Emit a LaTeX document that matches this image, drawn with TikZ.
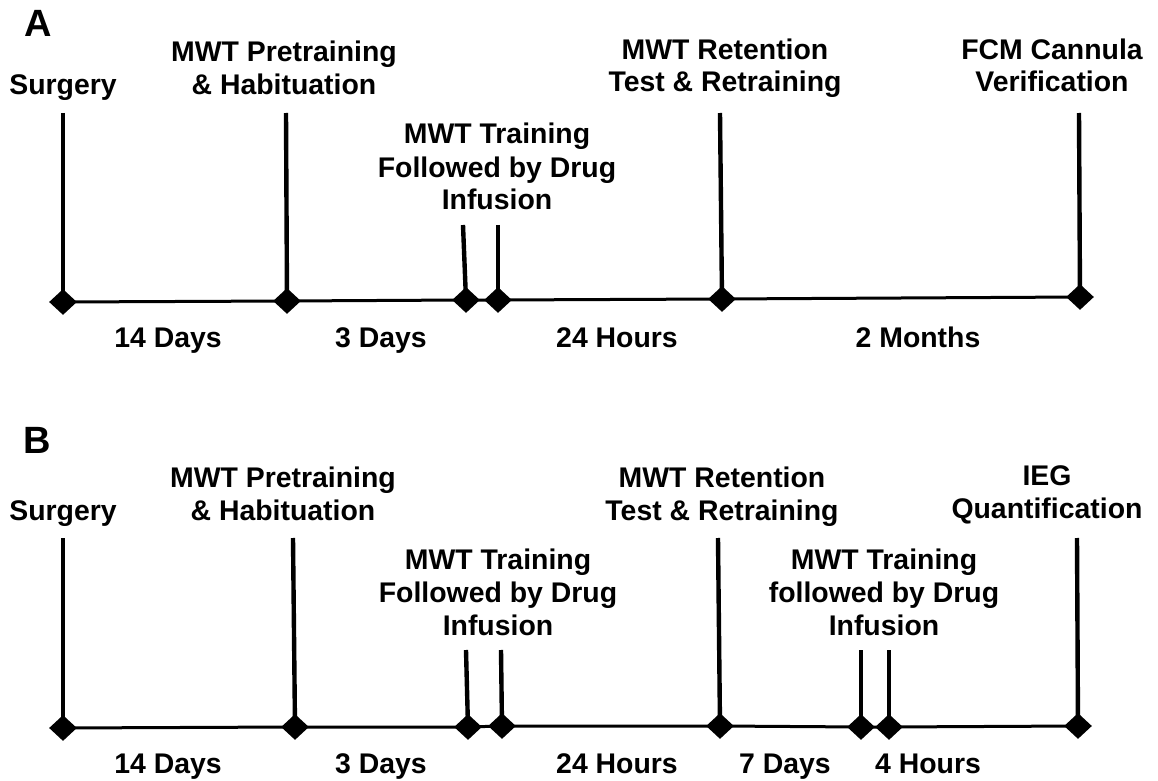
\documentclass[tikz,border=0pt]{standalone}
\usepackage{fontspec}
\setmainfont{Liberation Sans}
\usetikzlibrary{shapes.geometric}
\begin{document}
\begin{tikzpicture}[x=0.5pt,y=-0.5pt,
  lbl/.style={font=\bfseries\fontsize{14.2}{16.5}\selectfont, align=center, anchor=base, inner sep=0pt},
  dur/.style={font=\bfseries\fontsize{14.2}{16.5}\selectfont, anchor=base, inner sep=0pt},
  panel/.style={font=\bfseries\fontsize{19}{21}\selectfont, anchor=base, inner sep=0pt},
  evt/.style={diamond, fill=black, inner sep=0pt, minimum width=14pt, minimum height=13pt},
  axisline/.style={line width=1.5pt},
  tickline/.style={line width=2.2pt}]
\fill[white] (0,0) rectangle (1158,781);
\useasboundingbox (0,0) rectangle (1158,781);

% ---------------- Panel A ----------------
\node[panel] (pA) at (38,37) {A};
\node[evt] (a1) at (63,302) {};
\node[evt] (a2) at (287,301) {};
\node[evt] (a3) at (466,300) {};
\node[evt] (a4) at (498,300) {};
\node[evt] (a5) at (722,299) {};
\node[evt] (a6) at (1080,297) {};
\coordinate (ta1) at (63,113);
\coordinate (ta2) at (286,113);
\coordinate (ta3) at (463,225);
\coordinate (ta4) at (498,225);
\coordinate (ta5) at (720,113);
\coordinate (ta6) at (1079,113);
\draw[axisline] (a1.center) -- (a2.center) -- (a3.center) -- (a4.center) -- (a5.center) -- (a6.center);
\foreach \i in {1,...,6} \draw[tickline] (ta\i) -- (a\i.center);

\node[lbl] (la1) at (63,95) {Surgery};
\node[lbl] (la2) at (284,95) {MWT Pretraining\\\& Habituation};
\node[lbl] (la3) at (497,210) {MWT Training\\Followed by Drug\\Infusion};
\node[lbl] (la5) at (725,92) {MWT Retention\\Test \& Retraining};
\node[lbl] (la6) at (1052,92) {FCM Cannula\\Verification};

\node[dur] (da1) at (168,347) {14 Days};
\node[dur] (da2) at (381,347) {3 Days};
\node[dur] (da3) at (617,347) {24 Hours};
\node[dur] (da4) at (918,347) {2 Months};

% ---------------- Panel B ----------------
\node[panel] (pB) at (37,453) {B};
\node[evt] (b1) at (63,728) {};
\node[evt] (b2) at (295,727) {};
\node[evt] (b3) at (468,727) {};
\node[evt] (b4) at (502,726) {};
\node[evt] (b5) at (720,726) {};
\node[evt] (b6) at (861,727) {};
\node[evt] (b7) at (889,727) {};
\node[evt] (b8) at (1078,726) {};
\coordinate (tb1) at (63,538);
\coordinate (tb2) at (293,538);
\coordinate (tb3) at (466,650);
\coordinate (tb4) at (501,650);
\coordinate (tb5) at (718,538);
\coordinate (tb6) at (861,650);
\coordinate (tb7) at (889,650);
\coordinate (tb8) at (1077,538);
\draw[axisline] (b1.center) -- (b2.center) -- (b3.center) -- (b4.center) -- (b5.center) -- (b6.center) -- (b7.center) -- (b8.center);
\foreach \i in {1,...,8} \draw[tickline] (tb\i) -- (b\i.center);

\node[lbl] (lb1) at (63,520) {Surgery};
\node[lbl] (lb2) at (283,520) {MWT Pretraining\\\& Habituation};
\node[lbl] (lb3) at (498,635) {MWT Training\\Followed by Drug\\Infusion};
\node[lbl] (lb5) at (722,520) {MWT Retention\\Test \& Retraining};
\node[lbl] (lb6) at (884,635) {MWT Training\\followed by Drug\\Infusion};
\node[lbl] (lb8) at (1047,518) {IEG\\Quantification};

\node[dur] (db1) at (168,773) {14 Days};
\node[dur] (db2) at (381,773) {3 Days};
\node[dur] (db3) at (617,773) {24 Hours};
\node[dur] (db4) at (785,773) {7 Days};
\node[dur] (db5) at (928,773) {4 Hours};
\end{tikzpicture}
\end{document}
